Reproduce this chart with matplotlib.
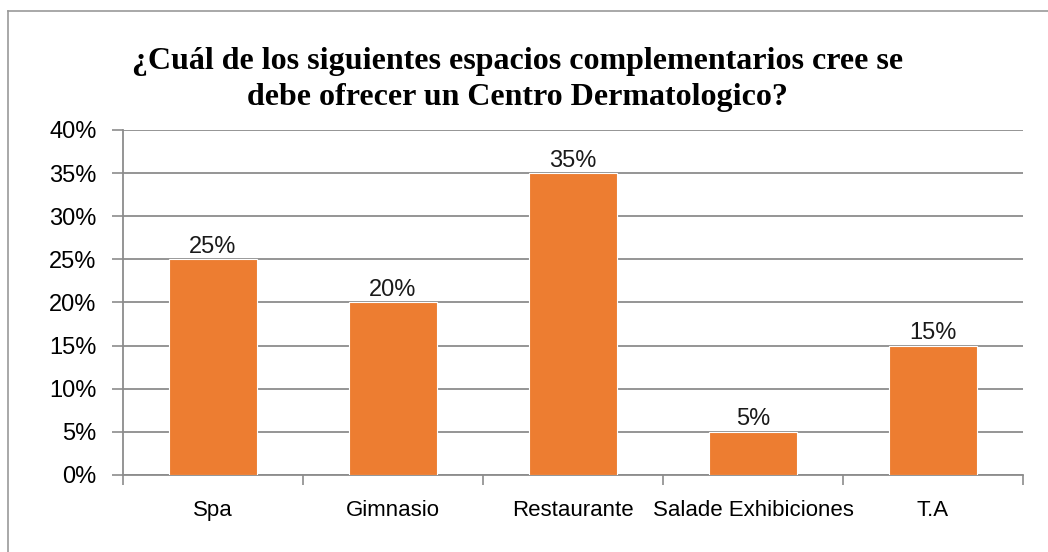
import matplotlib.pyplot as plt
from matplotlib.lines import Line2D
from matplotlib.ticker import FixedLocator, PercentFormatter

categories = ["Spa", "Gimnasio", "Restaurante", "Salade Exhibiciones", "T.A"]
values = [25, 20, 35, 5, 15]
yticks = [0, 5, 10, 15, 20, 25, 30, 35, 40]

narrow = ["Liberation Sans Narrow", "Liberation Sans", "DejaVu Sans"]
serif = ["Liberation Serif", "DejaVu Serif"]
orange = "#ED7D31"
grey = "#8C8C8C"

fig = plt.figure(figsize=(10.48, 5.52), dpi=100)
ax = fig.add_axes([0.1174, 0.1395, 0.8588, 0.625])

x = list(range(len(categories)))
bars = ax.bar(x, values, width=0.49, color=orange, edgecolor="white", linewidth=0.8, zorder=3)
ax.bar_label(bars, labels=[f"{v}%" for v in values], padding=1, fontsize=17, family=narrow, color="#1a1a1a")

ax.set_xlim(-0.5, len(categories) - 0.5)
ax.set_ylim(0, 40)
ax.set_yticks(yticks)
ax.yaxis.set_major_formatter(PercentFormatter(decimals=0))
ax.grid(axis="y", color=grey, linewidth=1.3, zorder=0)
ax.set_axisbelow(True)

ax.set_xticks(x)
ax.set_xticklabels(categories, family=narrow, fontsize=16)
ax.xaxis.set_minor_locator(FixedLocator([i - 0.5 for i in range(len(categories) + 1)]))
ax.tick_params(axis="x", which="major", length=0, pad=18)
ax.tick_params(axis="x", which="minor", length=7, color=grey, width=1.2)
ax.tick_params(axis="y", length=8, color=grey, width=1.2, pad=11, labelsize=17)
for lbl in ax.get_yticklabels():
    lbl.set_family(narrow)

for s in ["top", "right"]:
    ax.spines[s].set_visible(False)
for s in ["left", "bottom"]:
    ax.spines[s].set_color(grey)
    ax.spines[s].set_linewidth(1.3)

fig.text(0.494, 0.856, "¿Cuál de los siguientes espacios complementarios cree se\ndebe ofrecer un Centro Dermatologico?",
         ha="center", va="center", fontsize=23, fontweight="bold", family=serif, linespacing=1.3)

# chart frame (top and left edges visible)
fig.add_artist(Line2D([8 / 1048, 1], [1 - 11 / 552, 1 - 11 / 552], transform=fig.transFigure, color="#999999", linewidth=1.2))
fig.add_artist(Line2D([8 / 1048, 8 / 1048], [0, 1 - 11 / 552], transform=fig.transFigure, color="#999999", linewidth=1.2))

fig.savefig("out.png", dpi=100)
